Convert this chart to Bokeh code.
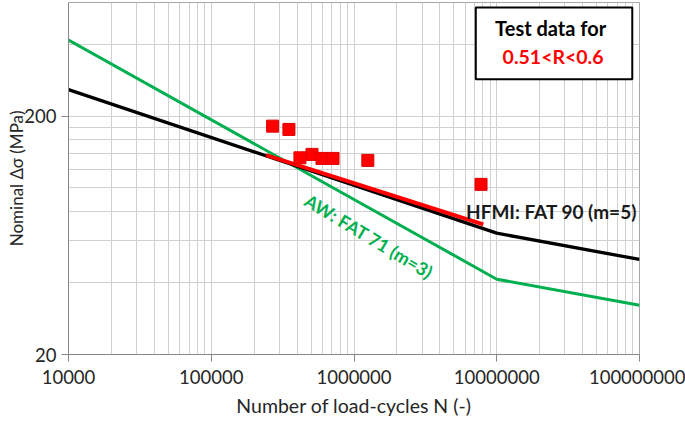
from bokeh.plotting import figure
from bokeh.models import FixedTicker, BasicTickFormatter, Label, BoxAnnotation, Range1d
from bokeh.embed import file_html
from bokeh.resources import INLINE

# ---- data ----
# HFMI FAT 90 design curve (m=5, knee at 1e7)
N_hfmi = [1e4, 1e7, 1e8]
S_hfmi = [258.6, 64.6, 50.1]
# AW FAT 71 design curve (m=3, knee at 1e7)
N_aw = [1e4, 1e7, 1e8]
S_aw = [417.4, 41.4, 32.2]
# Fitted line through test data (red)
N_fit = [2.42e5, 8.05e6]
S_fit = [137.3, 70.3]
# Test data points
N_test = [2.69e5, 3.50e5, 4.18e5, 5.08e5, 5.97e5, 7.13e5, 1.25e6, 7.76e6]
S_test = [181.7, 176.0, 133.8, 138.3, 133.0, 133.0, 130.5, 103.5]

x_major = [1e4, 1e5, 1e6, 1e7, 1e8]
x_minor = [k * 10 ** d for d in range(4, 8) for k in range(2, 10)]
y_major = [20, 200]
y_minor = [40, 60, 80, 100, 120, 140, 160, 180, 400, 600]

FONT = "Lato"
TXT = "#262626"
GREEN = "#00B050"

p = figure(width=685, height=421, x_axis_type="log", y_axis_type="log",
           x_range=Range1d(1e4, 1e8), y_range=Range1d(20, 600),
           output_backend="svg", toolbar_location=None,
           min_border_left=68, min_border_right=46, min_border_top=2,
           min_border_bottom=67)

p.background_fill_color = "white"
p.border_fill_color = "white"
p.outline_line_color = "#a6a6a6"

p.xaxis.ticker = FixedTicker(ticks=x_major, minor_ticks=x_minor)
p.yaxis.ticker = FixedTicker(ticks=y_major, minor_ticks=y_minor)
p.xaxis.formatter = BasicTickFormatter(use_scientific=False)
p.yaxis.formatter = BasicTickFormatter(use_scientific=False)

for g in (p.xgrid, p.ygrid):
    g.grid_line_color = "#d0d0d0"
    g.minor_grid_line_color = "#d0d0d0"
    g.grid_line_width = 1
    g.minor_grid_line_width = 1

for ax in (p.xaxis, p.yaxis):
    ax.axis_line_color = "#868686"
    ax.major_tick_line_color = "#868686"
    ax.major_tick_out = 7
    ax.major_tick_in = 0
    ax.minor_tick_out = 0
    ax.minor_tick_in = 0
    ax.major_label_text_font = FONT
    ax.major_label_text_font_size = "18.5px"
    ax.major_label_text_color = TXT
    ax.axis_label_text_font = FONT
    ax.axis_label_text_font_style = "normal"
    ax.axis_label_text_color = TXT

p.xaxis.axis_label = "Number of load-cycles N (-)"
p.xaxis.axis_label_text_font_size = "19.5px"
p.xaxis.major_label_standoff = 8
p.xaxis.axis_label_standoff = 7

p.yaxis.axis_label = "Nominal Δσ (MPa)"
p.yaxis.axis_label_text_font_size = "17px"
p.yaxis.major_label_standoff = 5
p.yaxis.axis_label_standoff = -6

p.line(N_aw, S_aw, line_color=GREEN, line_width=3)
p.line(N_hfmi, S_hfmi, line_color="black", line_width=3.3)
p.line(N_fit, S_fit, line_color="#ff0000", line_width=4)
p.scatter(N_test, S_test, marker="square", size=12, fill_color="#ff0000",
          line_color="#e00000", line_width=1)

p.add_layout(Label(x=6.09e6, y=79.4, text="HFMI: FAT 90 (m=5)", text_font=FONT,
                   text_font_size="19px", text_font_style="bold", text_color="#1a1a1a",
                   text_align="left", text_baseline="middle"))
p.add_layout(Label(x=1.274e6, y=62.7, text="AW: FAT 71 (m=3)", text_font=FONT,
                   text_font_size="18px", text_font_style="bold", text_color=GREEN,
                   text_align="center", text_baseline="middle",
                   angle=-31, angle_units="deg"))

p.add_layout(BoxAnnotation(left=7.13e6, right=8.9e7, top=572, bottom=285.5,
                           fill_color="white", fill_alpha=1.0,
                           line_color="black", line_width=2, line_alpha=1.0))
p.add_layout(Label(x=2.48e7, y=468.6, text="Test data  for", text_font=FONT,
                   text_font_size="20px", text_font_style="bold", text_color="black",
                   text_align="center", text_baseline="middle"))
p.add_layout(Label(x=2.48e7, y=357.6, text="0.51<R<0.6", text_font=FONT,
                   text_font_size="19.5px", text_font_style="bold", text_color="#ff0000",
                   text_align="center", text_baseline="middle"))

open("out.html", "w").write(file_html(p, INLINE))
